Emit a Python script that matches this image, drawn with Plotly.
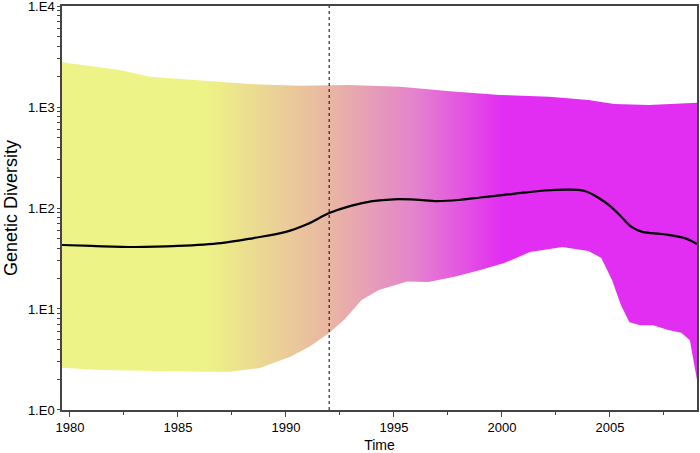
import plotly.graph_objects as go

# median genetic diversity (years, values)
med_years = [1979.63, 1981, 1983, 1985, 1987, 1988.5, 1990, 1991, 1992, 1993, 1994, 1995,
             1996, 1997, 1998, 1999, 2000, 2001, 2002, 2003, 2003.8, 2004.5, 2005, 2005.5,
             2006, 2006.5, 2007.5, 2008.5, 2009.03]
med_vals = [43, 42.1, 41.1, 42.1, 44.9, 50.4, 58, 69.4, 89, 105, 117, 122,
            121, 117, 120, 127, 134, 142, 149, 152, 148, 125, 105, 83,
            65, 58, 55, 50, 44]

# upper 95% HPD
up_years = [1979.63, 1982.3, 1983.7, 1986.0, 1988.3, 1990.6, 1992.9, 1995.3, 1997.6,
            1999.9, 2002.2, 2004.0, 2005.2, 2006.8, 2009.03]
up_vals = [2772, 2323, 1995, 1849, 1691, 1626, 1650, 1589, 1429,
           1315, 1265, 1172, 1072, 1048, 1103]

# lower 95% HPD
lo_years = [1979.63, 1981.4, 1983.7, 1986.0, 1987.4, 1988.8, 1990.2, 1991.1, 1992.0,
            1992.7, 1993.5, 1994.3, 1995.6, 1996.6, 1997.8, 1999.0, 2000.1, 2001.3,
            2002.8, 2004.0, 2004.6, 2005.1, 2005.5, 2005.9, 2006.4, 2007.0, 2007.7,
            2008.3, 2008.7, 2008.85, 2009.03]
lo_vals = [2.62, 2.49, 2.45, 2.39, 2.39, 2.6, 3.37, 4.24, 5.78,
           7.8, 12.3, 15.4, 18.7, 18.5, 20.8, 24.3, 28.5, 36.6,
           41.1, 37.6, 32, 19.3, 11, 7.4, 6.9, 6.9, 6.2,
           5.8, 4.9, 3.3, 1.98]

event_year = 1992
y_ticks = [1, 10, 100, 1000, 10000]
y_labels = ["1.E0", "1.E1", "1.E2", "1.E3", "1.E4"]
y_minor = [m * 10 ** k for k in range(4) for m in range(2, 10)]

x0, x1 = 1979.63, 2009.03
span = x1 - x0

def pos(yr):
    return (yr - x0) / span

fig = go.Figure()

fig.add_trace(go.Scatter(
    x=up_years + lo_years[::-1],
    y=up_vals + lo_vals[::-1],
    fill="toself",
    mode="lines",
    line=dict(width=0),
    fillgradient=dict(
        type="horizontal",
        start=x0, stop=x1,
        colorscale=[
            [0, "#EDF386"],
            [pos(1986.3), "#EDF386"],
            [pos(1992), "#E9B6A3"],
            [pos(1996), "#E482CD"],
            [pos(2000), "#E22EF2"],
            [1, "#E22EF2"],
        ],
    ),
    hoverinfo="skip",
    showlegend=False,
))

fig.add_trace(go.Scatter(
    x=med_years, y=med_vals, mode="lines",
    line=dict(color="black", width=2.2, shape="spline"),
    showlegend=False,
))

fig.add_vline(x=event_year, line=dict(color="black", width=1, dash="dot"))

fig.update_layout(
    width=700, height=453,
    margin=dict(l=62, r=3, t=6, b=43),
    plot_bgcolor="white", paper_bgcolor="white",
    font=dict(family="Liberation Sans, Arial, sans-serif", color="black", size=13),
)
fig.update_xaxes(
    range=[x0, x1], tick0=1980, dtick=5,
    ticks="outside", ticklen=5, tickcolor="#444",
    minor=dict(dtick=2.5, tick0=1980, ticks="outside", ticklen=3, tickcolor="#444"),
    showline=True, linecolor="#444", linewidth=1.5, mirror=True,
    showgrid=False, zeroline=False, automargin=False,
    title=dict(text="Time", font=dict(size=14), standoff=8),
)
fig.update_yaxes(
    type="log", range=[-0.0005, 4.0005],
    tickmode="array", tickvals=y_ticks + y_minor,
    ticktext=y_labels + [""] * len(y_minor),
    ticks="outside", ticklen=3, tickwidth=1.2, tickcolor="#444",
    ticklabeloverflow="allow",
    showline=True, linecolor="#444", linewidth=1.5, mirror=True,
    showgrid=False, zeroline=False, automargin=False,
    title=dict(text="Genetic Diversity", font=dict(size=18), standoff=6),
)

fig.write_html("out.html", config={"displayModeBar": False},
               post_script="document.body.style.margin='0';")
